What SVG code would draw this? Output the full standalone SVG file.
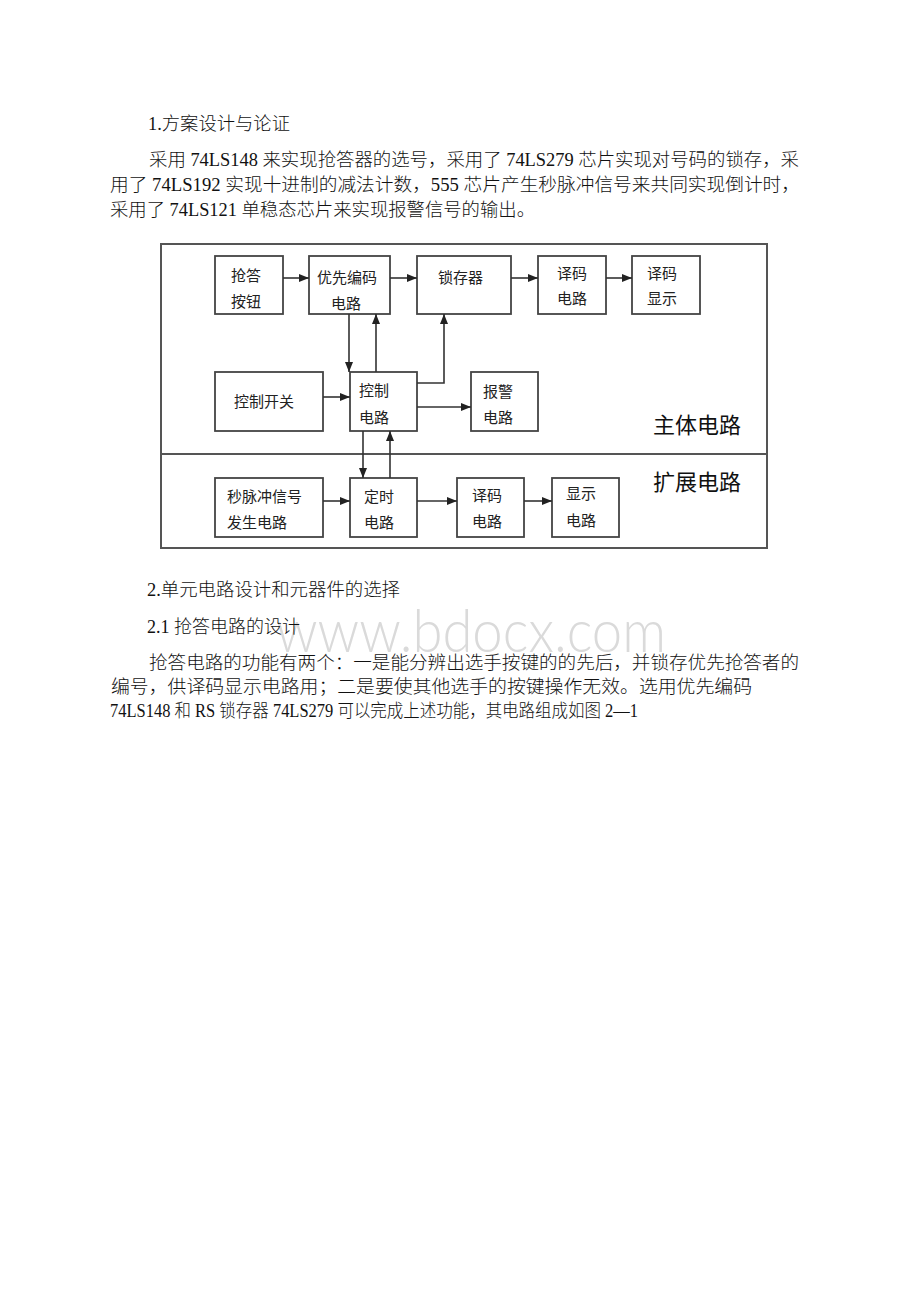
<svg xmlns="http://www.w3.org/2000/svg" width="920" height="1302" viewBox="0 0 920 1302">
<style>
.body{font-family:"Liberation Serif","Noto Sans CJK SC",serif;font-size:18px;fill:#111;font-weight:300}
.box{fill:#fff;stroke:#444;stroke-width:1.8}
.lbl{font-family:"Noto Sans CJK SC","Noto Sans",sans-serif;font-size:15px;fill:#222}
.big{font-family:"Noto Sans CJK SC","Noto Sans",sans-serif;font-size:22px;fill:#111}
.conn line,.conn polyline{stroke:#333;stroke-width:1.6;fill:none}
.wm{font-family:"Lato","Liberation Sans",sans-serif;font-weight:300;font-size:60px;fill:#dadada}
</style>
<defs>
<marker id="ah" markerUnits="userSpaceOnUse" markerWidth="10" markerHeight="8" refX="10" refY="4" orient="auto">
<path d="M0,0 L10,4 L0,8 z" fill="#222"/>
</marker>
</defs>
<rect width="920" height="1302" fill="#fff"/>

<text class="wm" x="276" y="652" textLength="390" lengthAdjust="spacingAndGlyphs">www.bdocx.com</text>

<g id="text-top">
<text class="body" x="148" y="130" textLength="142" lengthAdjust="spacingAndGlyphs">1.方案设计与论证</text>
<text class="body" x="149" y="166" textLength="650" lengthAdjust="spacingAndGlyphs">采用 74LS148 来实现抢答器的选号，采用了 74LS279 芯片实现对号码的锁存，采</text>
<text class="body" x="110" y="191" textLength="690" lengthAdjust="spacingAndGlyphs">用了 74LS192 实现十进制的减法计数，555 芯片产生秒脉冲信号来共同实现倒计时，</text>
<text class="body" x="110" y="216" textLength="425" lengthAdjust="spacingAndGlyphs">采用了 74LS121 单稳态芯片来实现报警信号的输出。</text>
</g>

<g id="frame">
<rect x="161" y="244" width="606" height="304" fill="none" stroke="#555" stroke-width="2"/>
<line x1="161" y1="454" x2="767" y2="454" stroke="#555" stroke-width="2"/>
<text class="big" x="653" y="433">主体电路</text>
<text class="big" x="653" y="490">扩展电路</text>
</g>

<g id="n-qiangda"><rect class="box" x="215" y="256" width="68" height="58"/><text class="lbl" x="231" y="281">抢答</text><text class="lbl" x="231" y="307">按钮</text></g>
<g id="n-youxian"><rect class="box" x="309" y="256" width="81" height="58"/><text class="lbl" x="317" y="283">优先编码</text><text class="lbl" x="331" y="309">电路</text></g>
<g id="n-suocun"><rect class="box" x="417" y="256" width="94" height="58"/><text class="lbl" x="438" y="283">锁存器</text></g>
<g id="n-yima1"><rect class="box" x="538" y="256" width="68" height="58"/><text class="lbl" x="557" y="279">译码</text><text class="lbl" x="557" y="304">电路</text></g>
<g id="n-yimaxs"><rect class="box" x="632" y="256" width="68" height="58"/><text class="lbl" x="647" y="279">译码</text><text class="lbl" x="647" y="304">显示</text></g>
<g id="n-kzkg"><rect class="box" x="215" y="372" width="108" height="59"/><text class="lbl" x="234" y="407">控制开关</text></g>
<g id="n-kzdl"><rect class="box" x="350" y="372" width="67" height="59"/><text class="lbl" x="359" y="396">控制</text><text class="lbl" x="359" y="423">电路</text></g>
<g id="n-baojing"><rect class="box" x="471" y="372" width="67" height="59"/><text class="lbl" x="483" y="397">报警</text><text class="lbl" x="483" y="423">电路</text></g>
<g id="n-miao"><rect class="box" x="215" y="478" width="108" height="59"/><text class="lbl" x="227" y="502">秒脉冲信号</text><text class="lbl" x="227" y="528">发生电路</text></g>
<g id="n-dingshi"><rect class="box" x="350" y="478" width="67" height="59"/><text class="lbl" x="364" y="502">定时</text><text class="lbl" x="364" y="528">电路</text></g>
<g id="n-yima2"><rect class="box" x="457" y="478" width="67" height="59"/><text class="lbl" x="472" y="501">译码</text><text class="lbl" x="472" y="527">电路</text></g>
<g id="n-xianshi"><rect class="box" x="552" y="478" width="67" height="59"/><text class="lbl" x="566" y="499">显示</text><text class="lbl" x="566" y="526">电路</text></g>

<g id="connectors" class="conn">
<line x1="283" y1="278" x2="309" y2="278" marker-end="url(#ah)"/>
<line x1="390" y1="278" x2="417" y2="278" marker-end="url(#ah)"/>
<line x1="511" y1="278" x2="538" y2="278" marker-end="url(#ah)"/>
<line x1="606" y1="278" x2="632" y2="278" marker-end="url(#ah)"/>
<line x1="349" y1="314" x2="349" y2="372" marker-end="url(#ah)"/>
<line x1="376" y1="372" x2="376" y2="314" marker-end="url(#ah)"/>
<polyline points="417,383 444,383 444,314" marker-end="url(#ah)"/>
<line x1="323" y1="397" x2="350" y2="397" marker-end="url(#ah)"/>
<line x1="417" y1="407" x2="471" y2="407" marker-end="url(#ah)"/>
<line x1="363" y1="431" x2="363" y2="478" marker-end="url(#ah)"/>
<line x1="390" y1="478" x2="390" y2="431" marker-end="url(#ah)"/>
<line x1="323" y1="501" x2="350" y2="501" marker-end="url(#ah)"/>
<line x1="417" y1="501" x2="457" y2="501" marker-end="url(#ah)"/>
<line x1="524" y1="501" x2="552" y2="501" marker-end="url(#ah)"/>
</g>

<g id="text-bottom">
<text class="body" x="147" y="596" textLength="253" lengthAdjust="spacingAndGlyphs">2.单元电路设计和元器件的选择</text>
<text class="body" x="147" y="633" textLength="153" lengthAdjust="spacingAndGlyphs">2.1 抢答电路的设计</text>
<text class="body" x="149" y="669" textLength="650" lengthAdjust="spacingAndGlyphs">抢答电路的功能有两个：一是能分辨出选手按键的的先后，并锁存优先抢答者的</text>
<text class="body" x="111" y="693" textLength="641" lengthAdjust="spacingAndGlyphs">编号，供译码显示电路用；二是要使其他选手的按键操作无效。选用优先编码</text>
<text class="body" x="110" y="717" textLength="528" lengthAdjust="spacingAndGlyphs">74LS148 和 RS 锁存器 74LS279 可以完成上述功能，其电路组成如图 2—1</text>
</g>
</svg>
